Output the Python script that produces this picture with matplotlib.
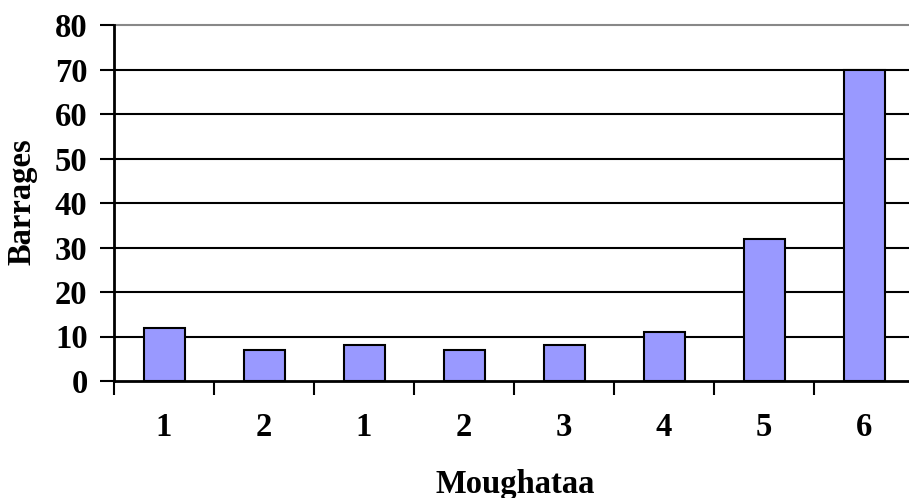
import matplotlib.pyplot as plt
import numpy as np

# --- data ---
categories = ["1", "2", "1", "2", "3", "4", "5", "6"]
barrages = [12, 7, 8, 7, 8, 11, 32, 70]
y_ticks = [0, 10, 20, 30, 40, 50, 60, 70, 80]

plt.rcParams["font.family"] = "Liberation Serif"
plt.rcParams["font.weight"] = "bold"
FS = 23.5

W, H = 909, 498
fig = plt.figure(figsize=(W / 100, H / 100), dpi=100)
# plot area in pixels: left 114, right 914 (runs past the edge), top 25, bottom 381
ax = fig.add_axes([114 / W, 1 - 381 / H, 800 / W, 356 / H])

x = np.arange(len(categories))
ax.bar(x, barrages, width=0.41, color="#9999FF", edgecolor="black",
       linewidth=1.5, zorder=3)

ax.set_xlim(-0.5, len(categories) - 0.5)
ax.set_ylim(0, 80)

# horizontal gridlines, the top one in grey
for v in y_ticks[1:-1]:
    ax.axhline(v, color="black", linewidth=1.5, zorder=1)
ax.axhline(80, color="#888888", linewidth=1.5, zorder=1, clip_on=False)

for side in ["top", "right"]:
    ax.spines[side].set_visible(False)
ax.spines["left"].set_linewidth(2)
ax.spines["bottom"].set_linewidth(2)
ax.spines["bottom"].set_zorder(4)

ax.set_yticks(y_ticks)
ax.set_yticklabels([str(v) for v in y_ticks], fontsize=FS, fontweight="bold")
ax.tick_params(axis="y", direction="out", length=10, width=1.5, pad=9)

# category ticks sit between bars, labels centred under each bar
ax.set_xticks(np.arange(len(categories) + 1) - 0.5)
ax.set_xticklabels([])
ax.tick_params(axis="x", direction="out", length=10, width=1.5)
for xi, lab in zip(x, categories):
    ax.text(xi, -47 / 356, lab, ha="center", va="center", fontsize=FS,
            fontweight="bold", transform=ax.get_xaxis_transform(),
            clip_on=False)

fig.text(515 / W, 1 - 493 / H, "Moughataa", ha="center", va="baseline",
         fontsize=FS, fontweight="bold")
fig.text(22 / W, 1 - 202 / H, "Barrages", ha="center", va="center",
         rotation=90, fontsize=FS, fontweight="bold")

fig.savefig("out.png", dpi=100)
